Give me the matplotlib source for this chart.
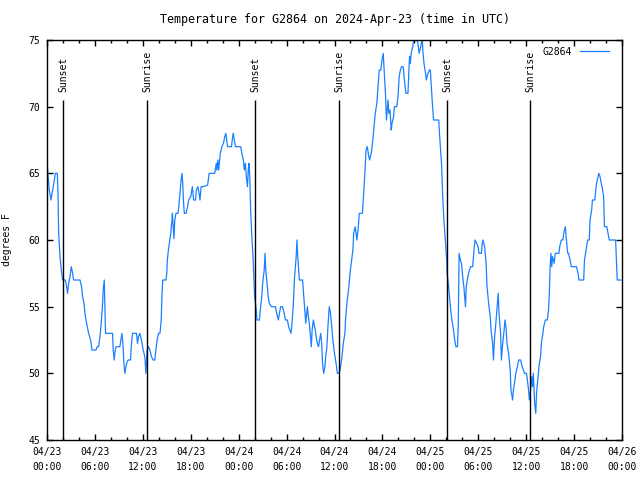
import matplotlib
matplotlib.use("Agg")
import matplotlib.pyplot as plt

# hours since 2024-04-23 00:00 UTC, temperature in F
hours = [
    0.0, 0.17, 0.29, 0.5, 0.71, 0.92, 1.04, 1.29, 1.38, 1.46, 1.63, 1.79, 1.96,
    2.29, 2.46, 2.58, 2.71, 2.88, 3.04, 3.21, 3.33, 4.13, 4.33, 4.46, 4.63, 4.75,
    4.88, 5.04, 5.21, 5.46, 5.63, 6.13, 6.29, 6.46, 6.63, 6.79, 6.96, 7.04, 7.17,
    7.25, 7.33, 8.21, 8.29, 8.42, 8.54, 8.67, 9.13, 9.25, 9.38, 9.5, 9.63, 9.75,
    9.88, 10.04, 10.17, 10.46, 10.58, 10.71, 11.21, 11.33, 11.46, 11.63, 11.83,
    12.04, 12.25, 12.38, 12.54, 12.71, 12.88, 13.08, 13.29, 13.5, 13.63, 13.79,
    13.96, 14.15, 14.3, 14.4, 14.5, 14.9, 15.0, 15.07, 15.2, 15.32, 15.5, 15.65,
    15.7, 15.9, 16.0, 16.15, 16.4, 16.5, 16.65, 16.8, 16.9, 17.0, 17.1, 17.2,
    17.4, 17.6, 17.74, 18.0, 18.2, 18.36, 18.6, 18.7, 18.9, 19.04, 19.16, 19.3,
    19.5, 20.1, 20.2, 20.3, 21.0, 21.2, 21.25, 21.4, 21.5, 21.7, 21.9, 22.1,
    22.25, 22.4, 22.5, 22.6, 23.1, 23.25, 23.33, 23.45, 23.6, 24.25, 24.4, 24.6,
    24.7, 24.84, 24.96, 25.1, 25.2, 25.3, 25.4, 25.5, 25.65, 25.8, 25.9, 26.0,
    26.2, 26.3, 26.6, 26.75, 26.9, 27.0, 27.2, 27.3, 27.4, 27.55, 27.7, 27.84,
    28.1, 28.6, 28.76, 28.97, 29.1, 29.26, 29.5, 29.7, 29.85, 30.1, 30.26, 30.4,
    30.55, 30.68, 30.85, 31.0, 31.2, 31.3, 31.4, 31.6, 32.0, 32.15, 32.3, 32.4,
    32.6, 32.73, 32.85, 33.0, 33.1, 33.2, 33.35, 33.5, 33.6, 33.7, 33.85, 34.0,
    34.14, 34.27, 34.4, 34.5, 34.65, 34.8, 34.9, 35.05, 35.2, 35.35, 35.5, 35.65,
    35.8, 36.0, 36.2, 36.36, 36.6, 36.77, 36.94, 37.1, 37.3, 37.4, 37.6, 37.8,
    37.94, 38.1, 38.3, 38.4, 38.6, 38.8, 38.95, 39.1, 39.5, 39.6, 39.8, 39.95,
    40.1, 40.3, 40.4, 40.6, 40.8, 40.95, 41.1, 41.3, 41.45, 41.6, 41.8, 41.95,
    42.1, 42.24, 42.4, 42.5, 42.7, 42.8, 42.95, 43.1, 43.2, 43.4, 43.5, 43.8,
    43.95, 44.1, 44.25, 44.4, 44.6, 44.75, 44.9, 44.95, 45.2, 45.3, 45.4, 45.5,
    45.6, 45.8, 45.95, 46.3, 46.5, 46.6, 46.8, 47.0, 47.05, 47.2, 47.4, 47.5,
    47.7, 47.9, 48.0, 48.2, 48.4, 49.05, 49.2, 49.4, 49.55, 49.7, 49.9, 50.05,
    50.1, 50.25, 50.4, 50.55, 50.7, 50.9, 51.05, 51.2, 51.4, 51.5, 51.6, 51.76,
    51.9, 52.05, 52.2, 52.4, 52.5, 52.7, 52.9, 53.05, 53.3, 53.5, 53.6, 53.8,
    53.97, 54.1, 54.4, 54.5, 54.6, 54.8, 54.98, 55.1, 55.3, 55.5, 55.6, 55.8,
    55.9, 56.05, 56.2, 56.4, 56.5, 56.6, 56.8, 56.9, 57.06, 57.2, 57.35, 57.5,
    57.6, 57.8, 58.0, 58.1, 58.3, 58.4, 58.6, 58.7, 58.9, 59.06, 59.3, 59.5,
    59.65, 59.8, 60.05, 60.2, 60.3, 60.4, 60.55, 60.7, 60.8, 60.9, 61.06, 61.2,
    61.3, 61.45, 61.6, 61.8, 61.9, 62.1, 62.2, 62.4, 62.65, 62.8, 62.9, 63.0,
    63.1, 63.2, 63.3, 63.5, 63.65, 64.1, 64.2, 64.4, 64.6, 64.7, 64.9, 65.0,
    65.2, 65.3, 65.5, 65.65, 66.3, 66.5, 66.6, 67.2, 67.3, 67.5, 67.7, 67.9,
    68.0, 68.2, 68.3, 68.6, 68.75, 68.9, 69.1, 69.25, 69.4, 69.5, 69.7, 69.8,
    70.1, 70.25, 70.4, 71.2, 71.3, 71.4, 71.85,
]
temps = [
    66, 64.5, 63.75, 63.0, 63.75, 64.5, 65, 65, 63.5, 60.5, 58.75, 57.75, 57,
    57, 56.5, 56, 56.75, 57.25, 58, 57.5, 57, 57, 56.5, 55.75, 55.25, 54.5,
    54, 53.5, 53, 52.5, 51.75, 51.75, 52, 52, 52.75, 53.75, 55.25, 56.25, 57,
    55, 53, 53, 51.75, 51, 51.75, 52, 52, 52.5, 53, 52.25, 50.75, 50,
    50.5, 50.9, 51, 51, 52.25, 53, 53, 52.25, 52.75, 53, 52.5,
    51.75, 51.25, 50, 51.75, 52, 51.75, 51.25, 51, 51, 51.75, 52.5,
    53, 53, 54, 56, 57, 57, 57.5, 58.5, 59.25, 59.75, 60.5, 61.5,
    62, 60.1, 61.5, 62, 62, 62.5, 63.5, 64.5, 65, 64.25, 62.75, 62,
    62, 62.5, 63, 63.25, 64, 63, 63, 63.75, 64, 63.5, 63, 64,
    64, 64.1, 64.5, 65, 65, 65.75, 65.25, 66, 65.25, 66.5, 67, 67.25,
    67.75, 68, 67.5, 67, 67, 67.75, 68, 67.5, 67, 67, 66.5, 66,
    65.25, 65.75, 64.75, 64, 65.25, 65.75, 64.5, 62.25, 60.25, 58.75, 57.25, 55.75,
    54.75, 54, 54, 55, 55.75, 56.75, 57.75, 59, 57.75, 56.75, 55.75, 55.25,
    55, 55, 54.5, 54, 54.5, 55, 55, 54.5, 54, 54, 53.5, 53.25,
    53, 53.75, 55.25, 57.25, 58.75, 60, 58.75, 57, 57, 55.75, 54.5, 53.75,
    55, 54.25, 53.75, 52.75, 52, 53.25, 54, 53.5, 53.25, 52.75, 52.25, 52,
    52.5, 53, 52.25, 50.75, 50, 50.5, 51.25, 52, 53.75, 55, 54.5, 53.5,
    52.5, 51.5, 50.75, 50, 50, 50.5, 51.25, 52.25, 53, 54.25, 55.5, 56.5,
    57.5, 58.25, 59.25, 60.5, 61, 60, 60.75, 62, 62, 63, 65, 66.75,
    67, 66.25, 66, 66.5, 67.5, 68.5, 69.5, 70.25, 71.5, 72.75, 72.75, 73.5,
    74, 72.5, 70.75, 69, 70.5, 69.5, 69.75, 68.25, 68.75, 69.25, 70, 70,
    70.75, 72.25, 72.75, 73, 73, 72, 71.25, 71, 71, 72.5, 73.75, 73.25,
    74, 74.5, 75.2, 75.2, 74.5, 74, 74.5, 75.2, 74.25, 73.25, 72.5, 72,
    72.5, 72.75, 72.75, 70.75, 69, 69, 67.5, 65.75, 63.25, 61.5, 59.75, 58.5,
    57.5, 56.75, 55.75, 54.75, 54, 53.25, 52.5, 52, 52, 53.75, 59, 58.5,
    58.25, 57.25, 56.5, 55, 56.5, 57.25, 57.75, 58, 58, 59.5, 60, 59.75,
    59.5, 59, 59, 59.75, 60, 59.5, 58.25, 56.5, 55.25, 54.25, 53.25, 52.25,
    51, 52.75, 53.75, 55.25, 56, 54.5, 53, 51, 52.25, 53, 54, 53.25,
    52.25, 51.5, 50.25, 48.75, 48, 48.75, 49.5, 50, 50.5, 51, 51, 50.5,
    50.25, 50, 50, 49.25, 48.75, 48, 48.75, 49.75, 49, 50, 47.75, 47,
    48.5, 49.5, 50.5, 51.25, 52.25, 53, 53.5, 54, 54, 54.75, 56, 58,
    59, 58, 58.75, 58.25, 59, 59, 59.5, 60, 60, 60.5, 61, 60.25,
    59, 59, 58.5, 58, 58, 57.5, 57, 57, 58.5, 59.25, 60, 60,
    61.5, 62.25, 63, 63, 64, 64.5, 65, 64.75, 64.25, 64, 63.25, 61,
    61, 60.5, 60, 60, 58.5, 57, 57,
]

# sunset / sunrise markers
sun_hours = [2.0, 12.55, 26.1, 36.55, 50.1, 60.5]
sun_labels = ["Sunset", "Sunrise", "Sunset", "Sunrise", "Sunset", "Sunrise"]

tick_hours = [0, 6, 12, 18, 24, 30, 36, 42, 48, 54, 60, 66, 72]
tick_labels = ["04/23\n00:00", "04/23\n06:00", "04/23\n12:00", "04/23\n18:00",
               "04/24\n00:00", "04/24\n06:00", "04/24\n12:00", "04/24\n18:00",
               "04/25\n00:00", "04/25\n06:00", "04/25\n12:00", "04/25\n18:00",
               "04/26\n00:00"]
y_ticks = [45, 50, 55, 60, 65, 70, 75]


def main():
    plt.rcParams["font.family"] = ["DejaVu Sans Mono"]
    plt.rcParams["font.size"] = 7

    fig = plt.figure(figsize=(6.4, 4.8), dpi=100)
    ax = fig.add_axes([47 / 640, 40 / 480, 575 / 640, 400 / 480])

    ax.plot(hours, temps, color="#1a80ff", lw=0.9, label="G2864")

    ax.vlines(sun_hours, 45, 70.5, color="black", lw=1)
    for h, lab in zip(sun_hours, sun_labels):
        ax.text(h, 71.1, lab, rotation=90, ha="center", va="bottom")

    ax.set_xlim(0, 72)
    ax.set_ylim(45, 75)
    ax.set_xticks(tick_hours)
    ax.set_xticklabels(tick_labels, linespacing=1.6)
    ax.set_xticks(range(0, 73, 2), minor=True)
    ax.set_yticks(y_ticks)
    ax.tick_params(direction="in", top=True, right=True, length=4.5, width=1, pad=5)
    ax.tick_params(which="minor", direction="in", top=True, length=2.5, width=1)
    for s in ax.spines.values():
        s.set_linewidth(1)

    ax.set_ylabel("degrees F", labelpad=12)
    ax.set_title("Temperature for G2864 on 2024-Apr-23 (time in UTC)", pad=12)

    # legend sits a bit in from the right edge like gnuplot's key
    ax.legend(loc="upper right", bbox_to_anchor=(1 - 6 / 575, 1), frameon=False,
              markerfirst=False, handlelength=3.0, borderaxespad=0.3,
              handletextpad=0.8)

    fig.savefig("out.png", dpi=100)


if __name__ == "__main__":
    main()
